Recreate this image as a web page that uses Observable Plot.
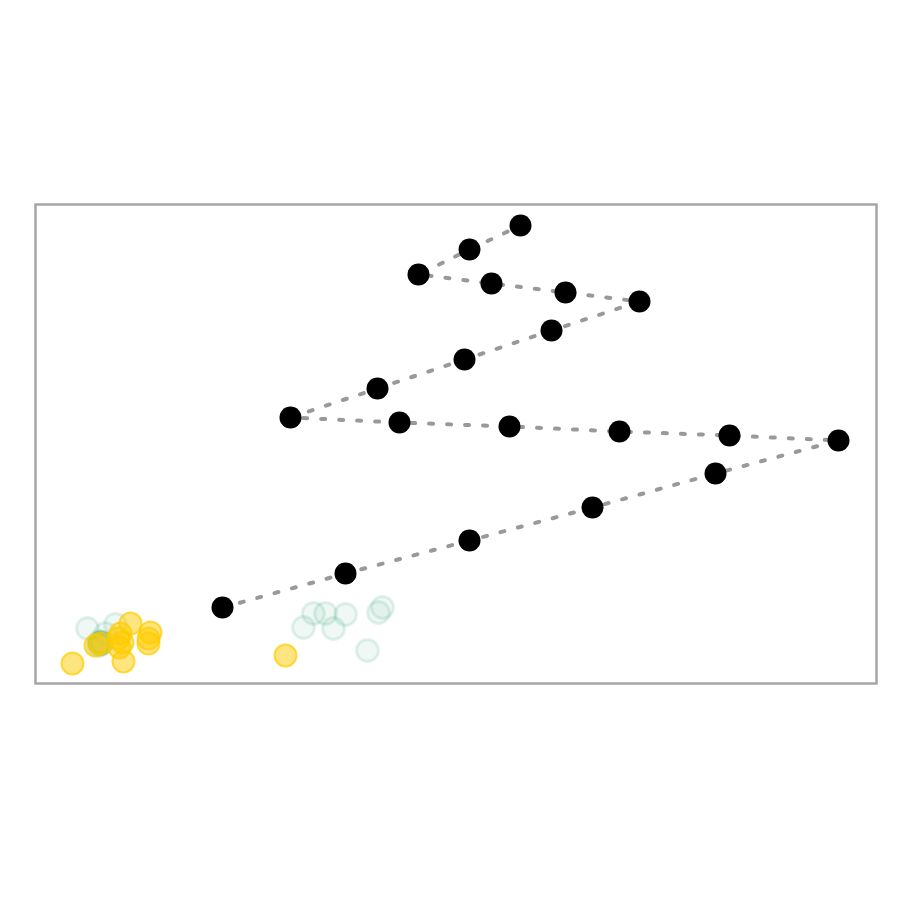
<!DOCTYPE html>
<html>
<head>
<meta charset="utf-8">
<script src="https://cdn.jsdelivr.net/npm/d3@7"></script>
<script src="https://cdn.jsdelivr.net/npm/@observablehq/plot@0.6"></script>
<style>
  html, body { margin: 0; padding: 0; background: #fff; }
  #chart { width: 900px; height: 900px; }
</style>
</head>
<body>
<div id="chart"></div>
<script>
// Path of black points (in drawing order)
const pathX = [187, 310, 434, 557, 680, 803, 694, 584, 474, 364, 255, 342, 429, 516, 604, 530, 456, 383, 434, 485];
const pathY = [76, 110, 143, 176, 210, 243, 248, 252, 257, 261, 266, 295, 324, 353, 382, 391, 400, 409, 434, 458];

// Faint teal circles
const tealX = [268, 278, 290, 310, 298, 332, 343, 347, 52, 80, 65, 66, 64, 63, 65, 66, 64, 65, 70];
const tealY = [56, 70, 70, 69, 55, 33, 71, 76, 55, 59, 41, 40, 42, 38, 39, 41, 40, 40, 50];

// Gold circles
const goldX = [37, 60, 65, 85, 95, 87, 88, 115, 113, 113, 84, 250, 83];
const goldY = [20, 38, 40, 50, 60, 41, 22, 51, 45, 40, 36, 28, 45];

const path = pathX.map((x, i) => ({x, y: pathY[i]}));
const teal = tealX.map((x, i) => ({x, y: tealY[i]}));
const gold = goldX.map((x, i) => ({x, y: goldY[i]}));

const chart = Plot.plot({
  width: 900,
  height: 900,
  marginLeft: 35,
  marginRight: 24,
  marginTop: 204,
  marginBottom: 217,
  x: {domain: [0, 841], axis: null},
  y: {domain: [0, 479], axis: null},
  marks: [
    Plot.frame({stroke: "#a6a6a6", strokeWidth: 2.5}),
    Plot.dot(teal, {x: "x", y: "y", r: 11, fill: "#3aaa80", fillOpacity: 0.08, stroke: "#3aaa80", strokeOpacity: 0.15, strokeWidth: 3}),
    Plot.dot(gold, {x: "x", y: "y", r: 11, fill: "#ffcc00", fillOpacity: 0.5, stroke: "#ffcc00", strokeOpacity: 0.7, strokeWidth: 2}),
    Plot.line(path, {x: "x", y: "y", stroke: "#999", strokeWidth: 4, strokeDasharray: "4 14"}),
    Plot.dot(path, {x: "x", y: "y", r: 11, fill: "black", stroke: "none"})
  ]
});
document.getElementById("chart").appendChild(chart);
</script>
</body>
</html>
